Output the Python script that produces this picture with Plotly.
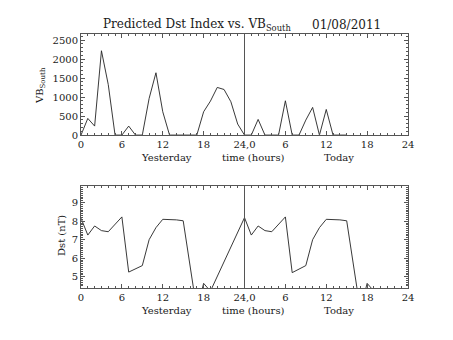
import plotly.graph_objects as go

# Hourly VB_South (yesterday 0-23 h, today 0-15 h)
vb_yesterday = [0, 439, 237, 2219, 1330, 0, 0, 237, 0, 0, 965, 1640,
                614, 0, 0, 0, 0, 0, 614, 895, 1254, 1200, 877, 290]
vb_today = [0, 0, 412, 0, 0, 0, 903, 0, 0, 395, 728, 0, 675, 0, 0, 0]

# Predicted Dst (yesterday and today, 0-19 h)
dst_yesterday = [8.16, 7.25, 7.74, 7.49, 7.43, 7.83, 8.23, 5.25, 5.43, 5.6,
                 7.0, 7.65, 8.1, 8.1, 8.07, 8.02, 5.6, 3.2, 4.64, 4.22]
dst_today = [8.19, 7.25, 7.74, 7.49, 7.43, 7.83, 8.23, 5.22, 5.43, 5.6,
             7.0, 7.65, 8.1, 8.1, 8.07, 8.02, 5.6, 3.2, 4.64, 4.22]

x_tickvals = [0, 6, 12, 18, 24, 30, 36, 42, 48]
x_ticktext = ["0", "6", "12", "18", "24,0", "6", "12", "18", "24"]
vb_ticks = [0, 500, 1000, 1500, 2000, 2500]
dst_ticks = [5, 6, 7, 8, 9]

vb_x = list(range(len(vb_yesterday))) + [24 + h for h in range(len(vb_today))]
vb_y = vb_yesterday + vb_today
dst_x = list(range(len(dst_yesterday))) + [24 + h for h in range(len(dst_today))]
dst_y = dst_yesterday + dst_today

FONT = "DejaVu Serif"
INK = "#555555"
TEXT = "#1a1a1a"

fig = go.Figure()
fig.add_trace(go.Scatter(x=vb_x, y=vb_y, mode="lines", xaxis="x", yaxis="y",
                         line=dict(color="#222222", width=0.9), showlegend=False))
fig.add_trace(go.Scatter(x=dst_x, y=dst_y, mode="lines", xaxis="x2", yaxis="y2",
                         line=dict(color="#222222", width=0.9), showlegend=False))

xaxis_common = dict(
    range=[0, 48], tickvals=x_tickvals, ticktext=x_ticktext,
    ticks="inside", ticklen=4, tickcolor=INK, tickwidth=1,
    minor=dict(ticks="inside", ticklen=2, dtick=1, tick0=0, tickcolor=INK),
    showline=True, linecolor=INK, linewidth=1, mirror="ticks",
    showgrid=False, zeroline=False,
    tickfont=dict(family=FONT, size=10, color=TEXT),
)

fig.update_layout(
    width=453, height=340,
    margin=dict(l=81, r=45, t=34, b=52),
    paper_bgcolor="white", plot_bgcolor="white",
    xaxis=dict(domain=[0, 1], anchor="y", **xaxis_common),
    xaxis2=dict(domain=[0, 1], anchor="y2", **xaxis_common),
    yaxis=dict(domain=[0.602, 1], anchor="x", range=[0, 2660],
               tickvals=vb_ticks, ticks="inside", ticklen=4, tickcolor=INK,
               minor=dict(ticks="inside", ticklen=2, dtick=100, tick0=0, tickcolor=INK),
               showline=True, linecolor=INK, linewidth=1, mirror="ticks",
               showgrid=False, zeroline=False,
               tickfont=dict(family=FONT, size=10, color=TEXT)),
    yaxis2=dict(domain=[0, 0.4016], anchor="x2", range=[4.39, 9.9],
                tickvals=dst_ticks, ticks="inside", ticklen=4, tickcolor=INK,
                minor=dict(ticks="inside", ticklen=2, dtick=0.1, tick0=0, tickcolor=INK),
                showline=True, linecolor=INK, linewidth=1, mirror="ticks",
                showgrid=False, zeroline=False,
                tickfont=dict(family=FONT, size=10, color=TEXT)),
)

# Day boundary at 24 h in both panels
for xr, yr in (("x", "y domain"), ("x2", "y2 domain")):
    fig.add_shape(type="line", xref=xr, yref=yr, x0=24, x1=24, y0=0, y1=1,
                  line=dict(color=INK, width=1))

txt = dict(family=FONT, size=10, color=TEXT)
annotations = [
    dict(text="Predicted Dst Index vs. VB<sub>South</sub>", xref="paper", yref="paper",
         x=(197 - 81) / 327, y=(340 - 52 - 25) / 254, xanchor="center", yanchor="middle",
         font=dict(family=FONT, size=12, color=TEXT)),
    dict(text="01/08/2011", xref="paper", yref="paper",
         x=(346 - 81) / 327, y=(340 - 52 - 25) / 254, xanchor="center", yanchor="middle",
         font=dict(family=FONT, size=12, color=TEXT)),
    dict(text="VB<sub>South</sub>", xref="paper", yref="paper",
         x=(40 - 81) / 327, y=(340 - 52 - 86) / 254, xanchor="center", yanchor="middle",
         textangle=-90, font=txt),
    dict(text="Dst (nT)", xref="paper", yref="paper",
         x=(61 - 81) / 327, y=(340 - 52 - 236) / 254, xanchor="center", yanchor="middle",
         textangle=-90, font=txt),
]
for xr, ydom in (("x", "y domain"), ("x2", "y2 domain")):
    for label, xc in (("Yesterday", 12.5), ("time (hours)", 25.3), ("Today", 37.9)):
        annotations.append(dict(text=label, xref=xr, yref=ydom, x=xc, y=-0.22,
                                xanchor="center", yanchor="middle", showarrow=False,
                                font=txt))
for a in annotations:
    a.setdefault("showarrow", False)
fig.update_layout(annotations=annotations)

fig.write_html("out.html")
